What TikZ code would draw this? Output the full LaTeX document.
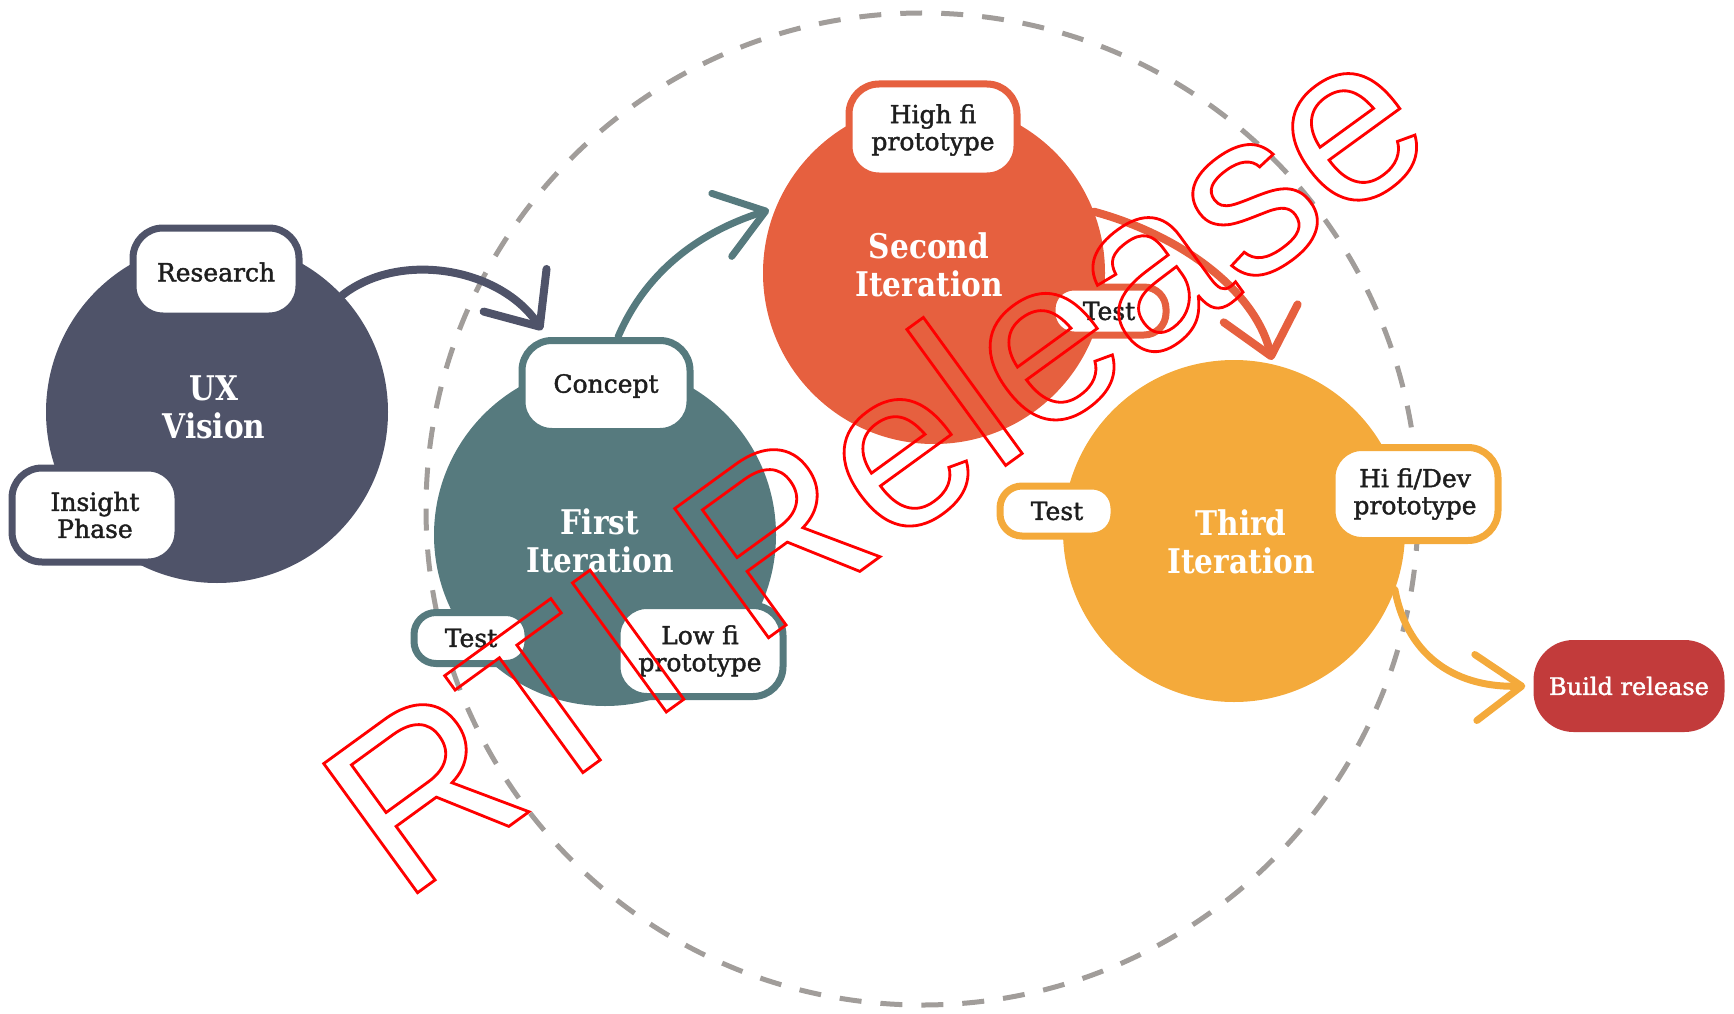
\documentclass[tikz,border=0pt]{standalone}
\usepackage{fontspec}
\setmainfont{DejaVu Serif}
\newfontfamily\tagfont{DejaVu Serif}[FakeBold=1.6]
\newfontfamily\titlefont{DejaVu Serif}[FakeStretch=0.87]
\newfontfamily\markfont{Liberation Sans}
\usetikzlibrary{arrows.meta}

\definecolor{uxc}{HTML}{4F5369}
\definecolor{firstc}{HTML}{567A7E}
\definecolor{secondc}{HTML}{E6603F}
\definecolor{thirdc}{HTML}{F4AA3B}
\definecolor{buildc}{HTML}{C23B3B}
\definecolor{ringc}{HTML}{A19D9A}
\definecolor{inkc}{HTML}{1E1E1E}

% stroked (hollow) glyphs
\newcommand{\hollowtext}[1]{\special{pdf:literal direct 1 Tr 2.8 w}#1\special{pdf:literal direct 0 Tr}}

\tikzset{
  phase/.style={circle, minimum size=342pt, inner sep=0pt},
  phasetitle/.style={align=center, inner sep=0pt, text=white,
    font=\titlefont\bfseries\fontsize{34}{38}\selectfont},
  tag/.style={draw, line width=7pt, fill=white, rounded corners=30pt,
    align=center, inner sep=0pt, text=inkc,
    font=\tagfont\fontsize{25}{27}\selectfont},
  smalltag/.style={tag, rounded corners=22pt},
  flow/.style={line width=8pt, line cap=round,
    -{Straight Barb[length=44pt, width=76pt, round]}},
}

\begin{document}
\begin{tikzpicture}[x=1pt, y=-1pt]
\useasboundingbox (0,0) rectangle (1734,1014);

% iteration ring
\draw[ringc, line width=5pt, dash pattern=on 22pt off 19pt] (922,509) circle[radius=496pt];

% phases
\node[phase, fill=uxc]     (ux)     at (217,412)  {};
\node[phase, fill=firstc]  (first)  at (605,535)  {};
\node[phase, fill=secondc] (second) at (934,273)  {};
\node[phase, fill=thirdc]  (third)  at (1234,531) {};

\node[phasetitle] (uxt)     at ([xshift=-3pt, yshift=5pt]ux.center)     {UX\\Vision};
\node[phasetitle] (firstt)  at ([xshift=-5pt, yshift=-6pt]first.center) {First\\Iteration};
\node[phasetitle] (secondt) at ([xshift=-5pt, yshift=8pt]second.center) {Second\\Iteration};
\node[phasetitle] (thirdt)  at ([xshift=7pt, yshift=-11pt]third.center) {Third\\Iteration};

% build release
\node[fill=buildc, rounded corners=40pt, minimum width=191pt, minimum height=92pt,
  inner sep=0pt, text=white, font=\tagfont\fontsize{24}{26}\selectfont] (build) at (1629,686) {Build release};

% arrow end points
\coordinate (uxtip) at (542,330);
\coordinate (firsttip) at (769,210);
\coordinate (secondtip) at (1272,360);
\coordinate (thirdtip) at ([xshift=-8pt]build.west);

% tags
\node[tag, draw=uxc, minimum width=166pt, minimum height=88pt] (research) at (216,272) {Research};
\node[tag, draw=uxc, minimum width=166pt, minimum height=94pt] (insight) at (95,515) {Insight\\Phase};
\node[tag, draw=firstc, minimum width=168pt, minimum height=91pt] (concept) at (606,386) {Concept};
\node[smalltag, draw=firstc, minimum width=114pt, minimum height=51pt] (test1) at (471,638) {Test};
\node[tag, draw=firstc, minimum width=166pt, minimum height=91pt] (lowfi) at (700,651) {Low fi\\prototype};
\node[tag, draw=secondc, minimum width=168pt, minimum height=92pt] (highfi) at (933,130) {High fi\\prototype};
\node[smalltag, draw=secondc, minimum width=114pt, minimum height=48pt] (test2) at (1109,311) {Test};
\node[smalltag, draw=thirdc, minimum width=114pt, minimum height=50pt] (test3) at (1057,511) {Test};
\node[tag, draw=thirdc, minimum width=166pt, minimum height=93pt] (devproto) at (1415,494) {Hi fi/Dev\\prototype};

% flow between phases
\draw[flow, uxc] (ux.43) .. controls (400,250) and (500,268) .. (uxtip);
\draw[flow, firstc, line width=7pt, -{Straight Barb[length=46pt, width=66pt, round]}]
  ([xshift=12pt]concept.north) .. controls (650,262) and (712,228) .. (firsttip);
\draw[flow, secondc] (second.21) .. controls (1180,235) and (1255,290) .. (secondtip);
\draw[flow, thirdc, line width=7pt, -{Straight Barb[length=46pt, width=66pt, round]}]
  (third.-20) .. controls (1408,660) and (1460,688) .. (thirdtip);

% stamp
\node[rotate=36, anchor=base west, text=red, inner sep=0pt,
  font=\markfont\fontsize{232}{232}\selectfont] (stamp) at (402,904) {\hollowtext{RTI Release}};
\end{tikzpicture}
\end{document}
